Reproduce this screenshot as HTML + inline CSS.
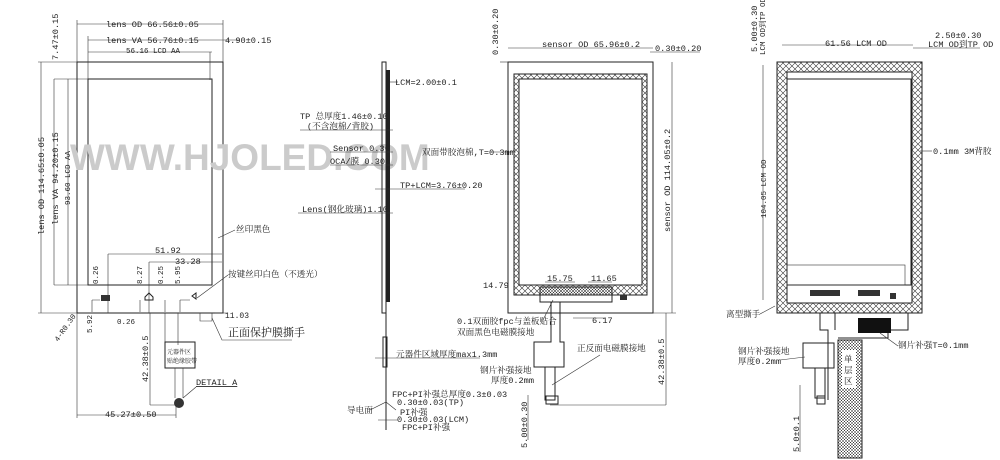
<!DOCTYPE html>
<html><head><meta charset="utf-8"><style>
html,body{margin:0;padding:0;background:#fff;width:1000px;height:460px;overflow:hidden}
svg{display:block}
text{font-family:"Liberation Mono","Noto Serif CJK SC","Noto Sans CJK SC",monospace;font-size:8.6px;fill:#222}
.l{stroke:#222;stroke-width:1;fill:none}
.t{stroke:#333;stroke-width:.6;fill:none}
</style></head><body>
<svg width="1000" height="460" viewBox="0 0 1000 460">
<defs>
<pattern id="x" width="6" height="6" patternUnits="userSpaceOnUse"><path d="M0 0L6 6M6 0L0 6" stroke="#333" stroke-width=".6"/></pattern>
<pattern id="g" width="3" height="3" patternUnits="userSpaceOnUse"><path d="M0 0L3 3M3 0L0 3" stroke="#333" stroke-width=".5"/></pattern>
</defs>
<!-- VIEW 1 -->
<rect class="l" x="77" y="62" width="146" height="251"/>
<rect class="l" x="88" y="79" width="124" height="206"/>
<line class="t" x1="210" y1="52" x2="210" y2="80"/>
<line class="t" x1="77" y1="24" x2="223" y2="24"/><line class="t" x1="77" y1="20" x2="77" y2="62"/><line class="t" x1="223" y1="20" x2="223" y2="62"/>
<text x="106" y="27">lens OD 66.56±0.05</text>
<line class="t" x1="88" y1="40" x2="240" y2="40"/><line class="t" x1="88" y1="36" x2="88" y2="79"/>
<text x="106" y="43">lens VA 56.76±0.15</text><text x="225" y="43">4.90±0.15</text>
<line class="t" x1="88" y1="52" x2="212" y2="52"/><text x="126" y="53" style="font-size:7.5px">56.16 LCD AA</text>
<line class="t" x1="41" y1="62" x2="41" y2="313"/><line class="t" x1="38" y1="62" x2="77" y2="62"/><line class="t" x1="38" y1="313" x2="77" y2="313"/>
<line class="t" x1="54" y1="79" x2="54" y2="285"/><line class="t" x1="54" y1="79" x2="88" y2="79"/><line class="t" x1="54" y1="285" x2="88" y2="285"/>
<line class="t" x1="68" y1="79" x2="68" y2="285"/>
<text transform="translate(44,235) rotate(-90)">lens OD 114.65±0.05</text>
<text transform="translate(58,225) rotate(-90)">lens VA 94.20±0.15</text>
<text transform="translate(70,205) rotate(-90)" style="font-size:7.5px">93.60 LCD AA</text>
<text transform="translate(58,60) rotate(-90)">7.47±0.15</text>
<line class="t" x1="108" y1="254" x2="222" y2="254"/><line class="t" x1="108" y1="254" x2="108" y2="313"/><text x="155" y="253">51.92</text>
<line class="t" x1="149" y1="262" x2="222" y2="262"/><line class="t" x1="149" y1="262" x2="149" y2="313"/><text x="175" y="264">33.28</text>
<text transform="translate(98,284) rotate(-90)" style="font-size:7.5px">0.26</text>
<text transform="translate(142,284) rotate(-90)" style="font-size:7.5px">8.27</text>
<text transform="translate(163,284) rotate(-90)" style="font-size:7.5px">0.25</text>
<text transform="translate(180,284) rotate(-90)" style="font-size:7.5px">5.95</text>
<rect x="101" y="295" width="9" height="6" fill="#333"/>
<path class="l" d="M145 297l4-4 4 4v3h-8z"/><path class="l" d="M192 296l4-3v6z"/>
<path class="t" d="M92 300h8M92 300v12M180 300h10M180 300v12M140 300v12M165 300v12"/>
<line class="t" x1="165" y1="313" x2="165" y2="345"/><line class="t" x1="178" y1="313" x2="178" y2="345"/>
<rect class="l" x="165" y="342" width="30" height="26"/>
<text x="167" y="354" style="font-size:6px">元器件区</text><text x="167" y="363" style="font-size:6px">贴绝缘胶带</text>
<line class="t" x1="175" y1="368" x2="175" y2="398"/><line class="t" x1="183" y1="368" x2="183" y2="398"/>
<circle cx="179" cy="403" r="5" fill="#333"/>
<text x="196" y="385" style="text-decoration:underline">DETAIL A</text><line class="t" x1="196" y1="387" x2="183" y2="398"/>
<line class="t" x1="77" y1="415" x2="176" y2="415"/><line class="t" x1="77" y1="313" x2="77" y2="418"/><line class="t" x1="176" y1="405" x2="176" y2="418"/>
<text x="105" y="417">45.27±0.50</text>
<line class="t" x1="150" y1="313" x2="150" y2="405"/><line class="t" x1="150" y1="405" x2="176" y2="405"/>
<text transform="translate(148,382) rotate(-90)">42.38±0.5</text>
<text transform="translate(92,333) rotate(-90)" style="font-size:7.5px">5.92</text><text x="117" y="324" style="font-size:7.5px">0.26</text>
<text transform="translate(58,342) rotate(-55)" style="font-size:7.5px">4-R0.30</text>
<path class="t" d="M200 313v8h12v-8M215 313h12"/><text x="225" y="318" style="font-size:8px">11.03</text>
<text x="236" y="232">丝印黑色</text><line class="t" x1="235" y1="230" x2="218" y2="238"/>
<text x="228" y="277">按键丝印白色（不透光）</text><line class="t" x1="228" y1="275" x2="197" y2="298"/>
<text x="228" y="336" style="font-size:11px">正面保护膜撕手</text><path class="t" d="M212 318l10 22h70"/>
<text x="70" y="170" style="font-family:'Liberation Sans',sans-serif;font-size:37px;font-weight:bold;fill:#cbcbcb">WWW.HJOLED.COM</text>
<!-- SIDE VIEW -->
<rect class="l" x="382" y="62" width="4" height="251"/><rect x="386" y="70" width="4" height="232" fill="#222"/>
<line class="l" x1="386" y1="313" x2="386" y2="430"/><rect class="l" x="383" y="337" width="4" height="30"/>
<path class="t" d="M390 82h8"/><text x="395" y="85">LCM=2.00±0.1</text>
<text x="300" y="119">TP 总厚度1.46±0.10</text><text x="307" y="129">(不含泡棉/背胶)</text><line class="t" x1="300" y1="130" x2="393" y2="130"/>
<text x="333" y="151">Sensor 0.36</text><line class="t" x1="330" y1="152" x2="393" y2="152"/>
<text x="330" y="164">OCA/膜 0.30</text><line class="t" x1="330" y1="165" x2="393" y2="165"/>
<text x="400" y="188">TP+LCM=3.76±0.20</text><line class="t" x1="375" y1="189" x2="465" y2="189"/>
<text x="302" y="212">Lens(钢化玻璃)1.10</text><line class="t" x1="298" y1="213" x2="393" y2="213"/>
<text x="396" y="357">元器件区域厚度max1.3mm</text><line class="t" x1="375" y1="358" x2="480" y2="358"/>
<text x="392" y="397">FPC+PI补强总厚度0.3±0.03</text><text x="397" y="405">0.30±0.03(TP)</text>
<text x="400" y="415">PI补强</text><text x="397" y="422">0.30±0.03(LCM)</text><text x="402" y="430">FPC+PI补强</text>
<text x="347" y="413">导电面</text><path class="t" d="M370 410l16-8 10 8M378 420h20"/>
<!-- SENSOR VIEW -->
<rect class="l" x="508" y="62" width="145" height="251"/>
<rect x="514" y="74" width="133" height="221" fill="url(#x)" stroke="#222"/>
<rect x="519" y="79" width="123" height="206" fill="#fff" stroke="#222"/>
<rect x="540" y="287" width="72" height="8" fill="url(#g)" stroke="#222"/>
<rect x="540" y="295" width="72" height="7" fill="#fff" stroke="#222"/>
<rect x="620" y="295" width="7" height="5" fill="#333"/>
<line class="t" x1="508" y1="48" x2="653" y2="48"/><text x="542" y="47">sensor OD 65.96±0.2</text>
<text x="655" y="51">0.30±0.20</text><line class="t" x1="650" y1="52" x2="700" y2="52"/>
<text transform="translate(498,55) rotate(-90)">0.30±0.20</text><line class="t" x1="500" y1="62" x2="508" y2="62"/>
<line class="t" x1="672" y1="62" x2="672" y2="313"/><line class="t" x1="653" y1="313" x2="676" y2="313"/>
<text transform="translate(670,232) rotate(-90)">sensor OD 114.05±0.2</text>
<text x="422" y="155">双面带胶泡棉,T=0.3mm</text><line class="t" x1="490" y1="152" x2="516" y2="152"/>
<text x="483" y="288">14.79</text><text x="547" y="281">15.75</text><text x="591" y="281">11.65</text>
<line class="t" x1="545" y1="282" x2="575" y2="282"/><line class="t" x1="588" y1="282" x2="612" y2="282"/>
<text x="592" y="323">6.17</text><line class="t" x1="573" y1="318" x2="605" y2="318"/>
<text x="457" y="324">0.1双面胶fpc与盖板贴合</text><text x="457" y="335">双面黑色电磁膜接地</text>
<line class="t" x1="553" y1="300" x2="543" y2="320"/>
<path class="l" d="M551 302v40h-17v25h30v-25h-4v-40"/>
<path class="l" d="M545 367v33h10v-33"/><rect x="546" y="396" width="12" height="8" fill="none" stroke="#222"/>
<text x="577" y="351">正反面电磁膜接地</text><line class="t" x1="600" y1="355" x2="552" y2="385"/>
<text x="480" y="373">钢片补强接地</text><text x="491" y="383">厚度0.2mm</text>
<line class="t" x1="666" y1="313" x2="666" y2="405"/><line class="t" x1="550" y1="405" x2="666" y2="405"/>
<text transform="translate(664,385) rotate(-90)">42.38±0.5</text>
<text transform="translate(527,448) rotate(-90)">5.00±0.30</text><line class="t" x1="528" y1="395" x2="528" y2="440"/>
<!-- LCM VIEW -->
<rect x="777" y="62" width="145" height="251" fill="url(#x)" stroke="#222"/>
<rect x="787" y="72" width="125" height="231" fill="#fff" stroke="#222"/>
<rect class="l" x="787" y="79" width="124" height="206"/>
<rect class="t" x="787" y="265" width="118" height="20"/>
<rect x="810" y="290" width="30" height="6" fill="#333"/><rect x="858" y="290" width="22" height="6" fill="#333"/><rect x="890" y="293" width="6" height="6" fill="#333"/>
<line class="t" x1="782" y1="45" x2="913" y2="45"/><text x="825" y="46">61.56 LCM OD</text>
<text x="935" y="38">2.50±0.30</text><text x="928" y="47">LCM OD到TP OD</text><line class="t" x1="913" y1="48" x2="980" y2="48"/>
<text transform="translate(757,52) rotate(-90)">5.00±0.30</text><text transform="translate(765,55) rotate(-90)" style="font-size:7.5px">LCM OD到TP OD</text>
<line class="t" x1="763" y1="65" x2="763" y2="300"/><text transform="translate(766,218) rotate(-90)" style="font-size:7.5px">104.05 LCM OD</text>
<text x="933" y="154">0.1mm 3M背胶</text><line class="t" x1="920" y1="151" x2="932" y2="151"/>
<text x="726" y="317">离型撕手</text><line class="t" x1="760" y1="314" x2="775" y2="306"/>
<path class="l" d="M820 313v17h8v70M835 313v17M908 313v17h-20v8h-50"/>
<rect x="858" y="318" width="33" height="15" fill="#111"/>
<text x="898" y="348">钢片补强T=0.1mm</text><line class="t" x1="880" y1="333" x2="898" y2="346"/>
<rect class="l" x="803" y="343" width="31" height="25"/><rect class="l" x="815" y="368" width="10" height="30"/>
<rect x="817" y="396" width="8" height="8" fill="none" stroke="#222"/>
<text x="738" y="354">钢片补强接地</text><text x="738" y="364">厚度0.2mm</text><line class="t" x1="780" y1="360" x2="805" y2="357"/>
<rect x="838" y="340" width="24" height="118" fill="url(#g)" stroke="#222"/>
<rect x="842" y="350" width="14" height="38" fill="#fff"/>
<text x="844" y="362">单</text><text x="844" y="373">层</text><text x="844" y="384">区</text>
<text transform="translate(799,452) rotate(-90)">5.0±0.1</text><line class="t" x1="800" y1="385" x2="800" y2="452"/>
</svg>
</body></html>
